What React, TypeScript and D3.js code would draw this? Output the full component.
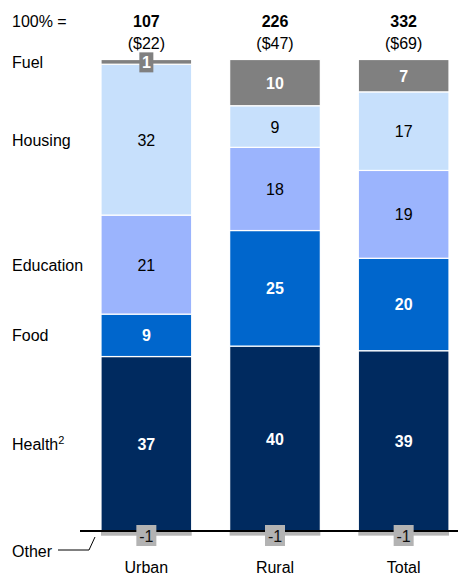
import React from "react";
import * as d3 from "d3";

const categories = ["Urban", "Rural", "Total"];
const totals = ["107", "226", "332"];
const dollars = ["($22)", "($47)", "($69)"];

const segmentNames = ["Health", "Food", "Education", "Housing", "Fuel"];
const health = [37, 40, 39];
const food = [9, 25, 20];
const education = [21, 18, 19];
const housing = [32, 9, 17];
const fuel = [1, 10, 7];
const other = [-1, -1, -1];

const seriesValues = [health, food, education, housing, fuel];
const colors = ["#002a5f", "#0066cc", "#9bb4fd", "#c7e0fc", "#808080"];
const textColors = ["#fff", "#fff", "#000", "#000", "#fff"];
const textBold = [true, true, false, false, true];

const W = 458;
const H = 577;
const BASE = 531;
const TOP = 59.5;
const FONT = "Liberation Sans, Arial, sans-serif";
const FS = 16;

export default function App() {
  const x = d3.scaleBand<string>().domain(categories).range([101, 449]).paddingInner(0.295).paddingOuter(0);
  const bw = x.bandwidth();

  const stacks = categories.map((c, i) => {
    const vals = seriesValues.map((s) => s[i]);
    const sum = d3.sum(vals);
    const y = d3.scaleLinear().domain([0, sum]).range([BASE, TOP]);
    let acc = 0;
    const segs = vals.map((v, k) => {
      const y0 = y(acc);
      acc += v;
      const y1 = y(acc);
      return { k, v, y0, y1 };
    });
    return { c, i, y, segs };
  });

  const urban = stacks[0];

  return (
    <svg width={W} height={H} style={{ position: "absolute", left: 0, top: 0, fontFamily: FONT }}>
      <rect width={W} height={H} fill="#fff" />
      {/* header */}
      <text x={12} y={27} fontSize={FS} fill="#000">100% =</text>
      {categories.map((c, i) => (
        <g key={"h" + c}>
          <text x={x(c)! + bw / 2} y={27} fontSize={FS} fontWeight="bold" textAnchor="middle">{totals[i]}</text>
          <text x={x(c)! + bw / 2} y={48.5} fontSize={FS} textAnchor="middle">{dollars[i]}</text>
        </g>
      ))}
      {/* other strips */}
      {stacks.map((st) => (
        <rect key={"os" + st.c} x={x(st.c)!} y={BASE} width={bw}
          height={st.y(other[st.i]) - BASE} fill="#b5b5b5" />
      ))}
      {/* bars */}
      {stacks.map((st) => (
        <g key={st.c}>
          {st.segs.map((s) => (
            <rect key={s.k} x={x(st.c)!} y={s.y1} width={bw} height={s.y0 - s.y1}
              fill={colors[s.k]} stroke="#fff" strokeWidth={1.2} />
          ))}
        </g>
      ))}
      {/* baseline */}
      <line x1={80} x2={458} y1={BASE} y2={BASE} stroke="#000" strokeWidth={2} />
      {/* segment labels */}
      {stacks.map((st) => (
        <g key={"l" + st.c}>
          {st.segs.map((s) => {
            const cx = x(st.c)! + bw / 2;
            const cy = (s.y0 + s.y1) / 2;
            const small = s.y0 - s.y1 < 20;
            return (
              <g key={s.k}>
                {small && <rect x={cx - 7} y={cy - 9.5} width={14} height={20} fill={colors[s.k]} />}
                <text x={cx} y={cy + 6} fontSize={FS} textAnchor="middle"
                  fill={textColors[s.k]} fontWeight={textBold[s.k] ? "bold" : "normal"}>{s.v}</text>
              </g>
            );
          })}
          <rect x={x(st.c)! + bw / 2 - 10} y={BASE - 6} width={20} height={21} fill="#b3b3b3" />
          <text x={x(st.c)! + bw / 2} y={BASE + 10.5} fontSize={FS} textAnchor="middle" fill="#111">{other[st.i]}</text>
        </g>
      ))}
      {/* left labels */}
      {urban.segs.map((s) => {
        const cy = (s.y0 + s.y1) / 2;
        return (
          <text key={"ll" + s.k} x={12} y={cy + 6} fontSize={FS} fill="#000">
            {segmentNames[s.k]}
            {s.k === 0 && <tspan fontSize={11} dy={-6}>2</tspan>}
          </text>
        );
      })}
      <text x={12} y={556.5} fontSize={FS}>Other</text>
      <polyline points="58,550 89,550 95,537" fill="none" stroke="#000" strokeWidth={1} />
      {/* category labels */}
      {categories.map((c) => (
        <text key={"c" + c} x={x(c)! + bw / 2} y={573} fontSize={FS} textAnchor="middle">{c}</text>
      ))}
    </svg>
  );
}
